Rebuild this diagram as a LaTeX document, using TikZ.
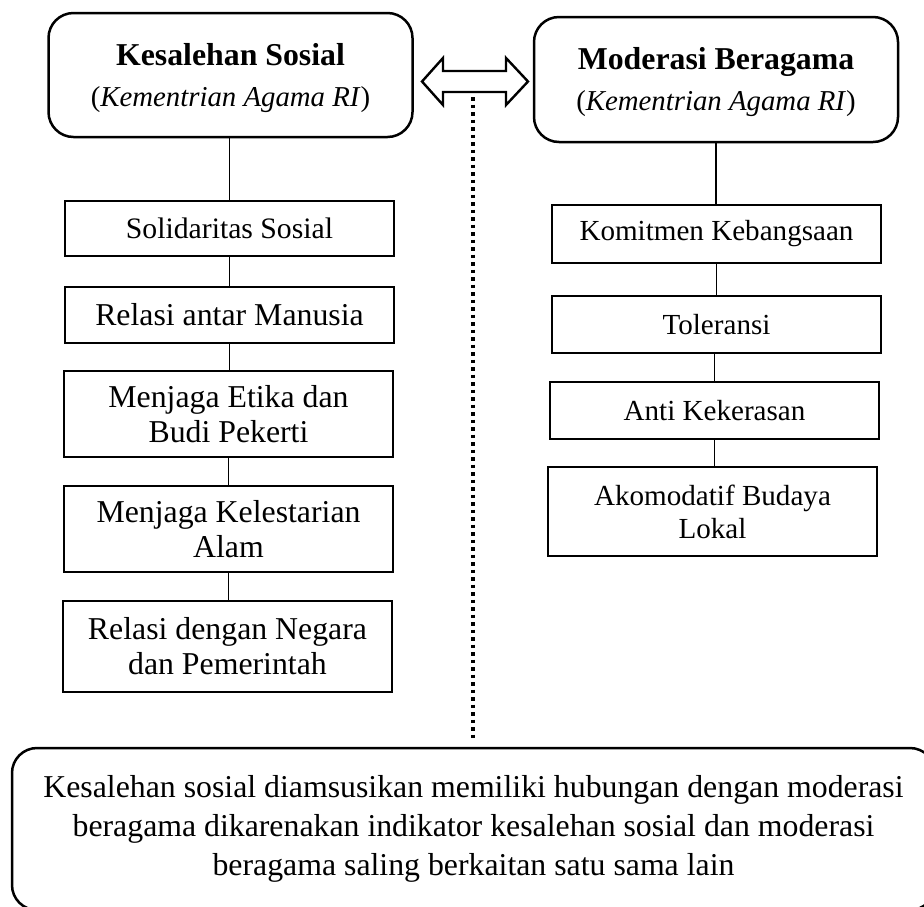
\documentclass[tikz,border=0pt]{standalone}
\usepackage{fontspec}
\setmainfont{Liberation Serif}
\newcommand{\topstrut}{\rule{0pt}{14pt}}
\begin{document}
\begin{tikzpicture}[x=0.5pt,y=-0.5pt,
  txt/.style={font=\fontsize{15.9}{17.5}\selectfont, align=center, inner sep=0pt},
  small/.style={font=\fontsize{14.55}{16.5}\selectfont},
  tbox/.style={txt, draw, line width=1.1pt, minimum width=164.5pt},
  headbox/.style={txt, draw, line width=1.25pt, rounded corners=12.5pt, minimum width=182pt},
  notebox/.style={draw, line width=1.25pt, rounded corners=12.5pt, align=center, inner sep=0pt,
    font=\fontsize{15.9}{19.5}\selectfont, minimum width=461.5pt, minimum height=81pt},
  link/.style={line width=0.9pt},
  dots/.style={line width=2pt, dash pattern=on 1.75pt off 2pt},
  dblarrow/.style={draw, line width=1.2pt, line join=miter}]
\useasboundingbox (0,0) rectangle (924,906);
\clip (0,0) rectangle (924,906);
% header boxes
\node[headbox, minimum height=62pt] (ks) at (230.5,75)
  {\topstrut\textbf{Kesalehan Sosial}\\[3pt]{\fontsize{14.4}{16}\selectfont(\textit{Kementrian Agama RI})}};
\node[headbox, minimum height=62.5pt] (mb) at (716,79.5)
  {\topstrut\textbf{Moderasi Beragama}\\[3pt]{\fontsize{14.4}{16}\selectfont(\textit{Kementrian Agama RI})}};
% double arrow
\draw[dblarrow] (422,81.5) -- (443,58) -- (443,71) -- (506,71) -- (506,58) -- (528,81.5)
  -- (506,105) -- (506,92) -- (443,92) -- (443,105) -- cycle;
% left column
\node[tbox, minimum height=27.5pt, font=\fontsize{14.85}{16.5}\selectfont] (s1) at (229.5,228.5) {Solidaritas Sosial};
\node[tbox, minimum height=28pt]   (s2) at (229.5,315)   {Relasi antar Manusia};
\node[tbox, minimum height=43pt]   (s3) at (228.5,414)   {Menjaga Etika dan\\Budi Pekerti};
\node[tbox, minimum height=43pt]   (s4) at (228.5,529)   {Menjaga Kelestarian\\Alam};
\node[tbox, minimum height=45.5pt] (s5) at (227.5,646.5) {Relasi dengan Negara\\dan Pemerintah};
% right column
\node[tbox, small, minimum height=29pt]   (r1) at (716.5,234)   {Komitmen Kebangsaan};
\node[tbox, small, minimum height=28.5pt] (r2) at (716.5,324.5) {Toleransi};
\node[tbox, small, minimum height=28.5pt] (r3) at (714.5,410.5) {Anti Kekerasan};
\node[tbox, small, minimum height=44.5pt] (r4) at (712.5,511.5) {Akomodatif Budaya\\Lokal};
% connectors
\draw[link] (s1.north) -- (s1.north |- ks.south);
\draw[link] (s1.south) -- (s1.south |- s2.north);
\draw[link] (s2.south) -- (s2.south |- s3.north);
\draw[link] (s3.south) -- (s3.south |- s4.north);
\draw[link] (s4.south) -- (s4.south |- s5.north);
\draw[link] (mb.south) -- (mb.south |- r1.north);
\draw[link] (r1.south) -- (r1.south |- r2.north);
\draw[link] (r3.north) -- (r3.north |- r2.south);
\draw[link] (r3.south) -- (r3.south |- r4.north);
% bottom note
\node[notebox] (note) at (473.5,829)
  {Kesalehan sosial diamsusikan memiliki hubungan dengan moderasi\\
   beragama dikarenakan indikator kesalehan sosial dan moderasi\\
   beragama saling berkaitan satu sama lain};
% dotted link
\coordinate (dtop) at (473,97);
\coordinate (dbot) at (473,739);
\draw[dots] (dtop) -- (dbot);
\end{tikzpicture}
\end{document}
